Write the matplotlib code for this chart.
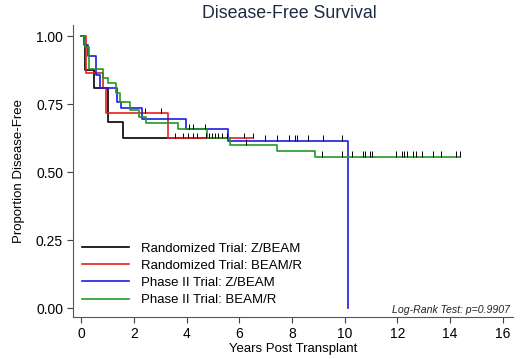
import matplotlib
matplotlib.use("Agg")
import matplotlib.pyplot as plt

plt.rcParams['font.family'] = ['Liberation Sans', 'DejaVu Sans']

# ---- data ----
labels = ["Randomized Trial: Z/BEAM", "Randomized Trial: BEAM/R",
          "Phase II Trial: Z/BEAM", "Phase II Trial: BEAM/R"]
colors = ["#000000", "#e8201e", "#1c1ce8", "#229922"]

black_t = [0, 0.13, 0.48, 1.01, 1.56]
black_s = [1.0, 0.875, 0.81, 0.685, 0.625]
black_end = 5.5
black_cens = [3.55, 3.84, 4.05, 4.22, 4.37]

red_t = [0, 0.19, 0.82, 0.95, 3.27]
red_s = [1.0, 0.865, 0.81, 0.716, 0.625]
red_end = 6.5
red_cens = [2.41, 3.01, 4.73, 4.85, 4.96, 5.07, 5.19, 5.32, 5.51, 6.18, 6.5]

blue_t = [0, 0.1, 0.25, 0.57, 0.7, 1.35, 1.49, 2.28, 3.97, 5.57, 10.13]
blue_s = [1.0, 0.967, 0.925, 0.857, 0.81, 0.758, 0.734, 0.694, 0.657, 0.615, 0.0]
blue_end = 10.13
blue_cens = [6.97, 7.44, 7.89, 8.11, 8.17, 8.62, 9.19, 9.89]

green_t = [0, 0.15, 0.3, 0.8, 1.0, 1.3, 1.45, 1.85, 2.2, 2.45, 3.67, 4.75, 5.64, 7.44, 8.87]
green_s = [1.0, 0.96, 0.88, 0.845, 0.826, 0.79, 0.757, 0.728, 0.703, 0.681, 0.658, 0.625, 0.60, 0.577, 0.556]
green_end = 14.38
green_cens = [4.09, 4.24, 4.71, 6.23, 9.13, 9.89, 10.27, 10.68, 10.77, 10.96, 11.03,
              11.95, 12.17, 12.25, 12.36, 12.59, 12.71, 12.93, 13.35, 13.65, 14.23, 14.36]

xticks = [0, 2, 4, 6, 8, 10, 12, 14, 16]
yticks = [0.0, 0.25, 0.5, 0.75, 1.0]
pvalue_text = "Log-Rank Test: p=0.9907"

series = [(black_t, black_s, black_end, black_cens),
          (red_t, red_s, red_end, red_cens),
          (blue_t, blue_s, blue_end, blue_cens),
          (green_t, green_s, green_end, green_cens)]

fig = plt.figure(figsize=(5.2, 3.59), dpi=100)
ax = fig.add_axes([0.140, 0.117, 0.847, 0.813])

def surv_at(t_list, s_list, x):
    v = s_list[0]
    for t, s in zip(t_list, s_list):
        if t <= x:
            v = s
    return v

handles = []
for (t, s, end, cens), col, lab in zip(series, colors, labels):
    xs = list(t) + [end]
    ys = list(s) + [s[-1]]
    h, = ax.step(xs, ys, where='post', color=col, lw=1.2, label=lab, zorder=3)
    handles.append(h)

for (t, s, end, cens), col in zip(series, colors):
    lv = [surv_at(t, s, c) for c in cens]
    ax.vlines(cens, lv, [v + 0.02 for v in lv], color='#000000', lw=0.7, zorder=4)

ax.set_xlim(-0.33, 16.4)
ax.set_ylim(-0.033, 1.04)
ax.set_xticks(xticks)
ax.set_xticklabels([str(v) for v in xticks])
ax.set_yticks(yticks)
ax.set_yticklabels([f"{v:.2f}" for v in yticks])
ax.tick_params(direction='out', length=4, width=0.8, labelsize=10, color='#444444', pad=3)
for side in ['top', 'right']:
    ax.spines[side].set_visible(False)
for side in ['left', 'bottom']:
    ax.spines[side].set_color('#555555')
    ax.spines[side].set_linewidth(0.8)

ax.set_xlabel("Years Post Transplant", fontsize=9.5, labelpad=2)
ax.set_ylabel("Proportion Disease-Free", fontsize=9.5, labelpad=8)
fig.text(0.557, 0.962, "Disease-Free Survival", ha='center', va='center',
         fontsize=12.8, color='#1e2a44')

ax.text(0.992, 0.008, pvalue_text, transform=ax.transAxes, ha='right', va='bottom',
        fontsize=7.6, style='italic', color='#222222')

leg = ax.legend(handles=handles, loc='lower left', bbox_to_anchor=(0.0, 0.005),
                frameon=False, fontsize=9.5, handlelength=3.55, handletextpad=0.9,
                labelspacing=0.38, borderaxespad=0.3)

fig.savefig("out.png", dpi=100, facecolor='white')
